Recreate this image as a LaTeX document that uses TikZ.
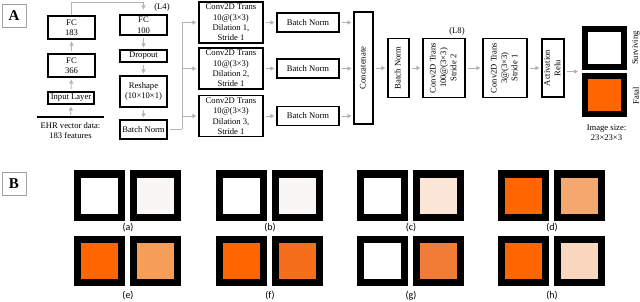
\documentclass[tikz,border=0pt]{standalone}
\usepackage{fontspec}
\setmainfont{Liberation Serif}
\newfontfamily\capfont{Carlito}
\usetikzlibrary{arrows.meta,positioning,calc}
\definecolor{arrgray}{HTML}{B3B3B3}
\definecolor{tagline}{HTML}{A0A0A0}
\definecolor{fatal}{HTML}{FF6600}
\definecolor{paleA}{HTML}{F9F7F5}
\definecolor{paleC}{HTML}{FBE5D6}
\definecolor{warmD}{HTML}{F5A86E}
\definecolor{warmE}{HTML}{F69D58}
\definecolor{warmF}{HTML}{F56E1C}
\definecolor{warmG}{HTML}{F07C36}
\definecolor{paleH}{HTML}{F9D7BF}
\newcommand{\netfont}{\fontsize{8.6}{10.4}\selectfont}
\newcommand{\vtext}[1]{\rotatebox{90}{\begin{tabular}{@{}c@{}}#1\end{tabular}}}
\tikzset{
  layerbox/.style={draw=black, line width=1.2pt, fill=white, inner sep=0pt,
                   align=center, font=\netfont},
  tagbox/.style={draw=tagline, line width=0.8pt, fill=white, inner sep=0pt,
                 minimum width=24pt, minimum height=23pt,
                 font=\fontsize{15}{15}\selectfont\bfseries},
  imgbig/.style={draw=black, line width=7pt, inner sep=0pt, fill=#1,
                 minimum width=44pt, minimum height=43pt},
  imgsmall/.style={draw=black, line width=6pt, inner sep=0pt, fill=#1,
                   minimum width=39pt, minimum height=38pt},
  note/.style={font=\netfont, align=center, inner sep=0pt},
  sublabel/.style={font=\capfont\fontsize{10}{10}\selectfont, inner sep=0pt},
  garr/.style={-{Triangle[length=4pt,width=4pt]}, line width=0.8pt, color=arrgray,
               shorten >=2pt, shorten <=2pt},
  gline/.style={line width=0.8pt, color=arrgray}}

\begin{document}
\begin{tikzpicture}[x=1pt, y=-1pt]
        \useasboundingbox (0,0) rectangle (640,302);
        \node[tagbox] (tagA) at (14,15.5) {A};
        % encoder part
        \node[layerbox, minimum width=47pt, minimum height=23pt] (fc183) at (71.5,27.5) {FC\\183};
        \node[layerbox, minimum width=47pt, minimum height=23pt] (fc366) at (71.5,65.5) {FC\\366};
        \node[layerbox, minimum width=46pt, minimum height=12pt] (inlayer) at (71,98) {Input Layer};
        \node[note, anchor=north, minimum width=67pt, inner ysep=5pt] (ehr) at (70.5,117)
          {EHR vector data:\\ 183 features};
        \draw[line width=1.5pt] (ehr.north west) -- (ehr.north east);
        \draw[garr] (ehr.north) -- (inlayer.south);
        \draw[garr] (inlayer.north) -- (fc366.south);
        \draw[garr] (fc366.north) -- (fc183.south);
        \node[layerbox, minimum width=47pt, minimum height=20pt] (fc100) at (143.5,25) {FC\\100};
        \node[layerbox, minimum width=47pt, minimum height=12pt] (drop) at (143.5,56) {Dropout};
        \node[layerbox, minimum width=47pt, minimum height=31pt] (reshape) at (143.5,91.5) {Reshape\\(10×10×1)};
        \node[layerbox, minimum width=47pt, minimum height=19pt] (norm0) at (143.5,129.5) {Batch Norm};
        \coordinate (turn) at (143.5,2);
        \draw[garr, shorten <=0pt, shorten >=5pt] (fc183.north) |- (turn) -- (fc100.north);
        \node[note] (l4) at (162,7) {(L4)};
        \draw[garr] (fc100.south) -- (drop.north);
        \draw[garr] (drop.south) -- (reshape.north);
        \draw[garr] (reshape.south) -- (norm0.north);
        % three dilated branches
        \node[layerbox, minimum width=64pt, minimum height=41pt] (conv1) at (231,22.5)
          {Conv2D Trans\\ 10@(3×3)\\ Dilation 1,\\ Stride 1};
        \node[layerbox, minimum width=64pt, minimum height=41pt] (conv2) at (231,68.5)
          {Conv2D Trans\\ 10@(3×3)\\ Dilation 2,\\ Stride 1};
        \node[layerbox, minimum width=64pt, minimum height=41pt] (conv3) at (231,116)
          {Conv2D Trans\\ 10@(3×3)\\ Dilation 3,\\ Stride 1};
        \draw[gline, shorten <=2pt] (norm0.east) -- (182,129.5) coordinate (split);
        \draw[garr, shorten <=0pt] (split) |- (conv1.west);
        \draw[garr, shorten <=0pt] (split) |- (conv2.west);
        \draw[garr, shorten <=0pt] (split) |- (conv3.west);
        \node[layerbox, minimum width=62pt, minimum height=19pt] (norm1) at (308,22.5) {Batch Norm};
        \node[layerbox, minimum width=62pt, minimum height=19pt] (norm2) at (308,68.5) {Batch Norm};
        \node[layerbox, minimum width=62pt, minimum height=19pt] (norm3) at (308,116) {Batch Norm};
        \draw[garr] (conv1.east) -- (norm1.west);
        \draw[garr] (conv2.east) -- (norm2.west);
        \draw[garr] (conv3.east) -- (norm3.west);
        \node[layerbox, minimum width=19pt, minimum height=112pt] (concat) at (363.5,68) {\vtext{Concatenate}};
        \draw[garr] (norm1.east) -- (norm1.east -| concat.west);
        \draw[garr] (norm2.east) -- (norm2.east -| concat.west);
        \draw[garr] (norm3.east) -- (norm3.east -| concat.west);
        % decoder head
        \node[layerbox, minimum width=21pt, minimum height=59pt] (norm4) at (398.5,68) {\vtext{Batch Norm}};
        \node[layerbox, minimum width=42pt, minimum height=59pt] (upconv) at (444,68)
          {\vtext{Conv2D Trans\\ 100@(3×3)\\ Stride 2}};
        \node[note] (l8) at (457,31) {(L8)};
        \node[layerbox, minimum width=44pt, minimum height=59pt] (outconv) at (505,68)
          {\vtext{Conv2D Trans\\ 3@(3×3)\\ Stride 1}};
        \node[layerbox, minimum width=22pt, minimum height=58pt] (relu) at (553,68)
          {\vtext{Activation\\ Relu}};
        \draw[garr] (concat.east) -- (norm4.west);
        \draw[garr] (norm4.east) -- (upconv.west);
        \draw[garr] (upconv.east) -- (outconv.west);
        \draw[garr] (outconv.east) -- (relu.west);
        \node[imgsmall=white] (surv) at (604.5,48) {};
        \node[imgsmall=fatal] (fatal) at (604.5,95) {};
        \coordinate (outimg) at ($(surv.south west)!0.5!(fatal.north west)$);
        \draw[garr, shorten >=4pt] (relu.east |- outimg) -- (outimg);
        \node[note, rotate=90] (survtxt) at (636,48) {Surviving};
        \node[note, rotate=90] (fataltxt) at (636,96) {Fatal};
        \node[note] (imgsize) at (606.5,132.5) {Image size:\\ 23×23×3};
        % panel B, generated samples
        \node[tagbox] (tagB) at (14,184) {B};
        \node[imgbig=white] (a1) at (99.5,195.5) {};
        \node[imgbig=paleA] (a2) at (155,195.5) {};
        \node[sublabel] (capa) at (128,228) {(a)};
        \node[imgbig=white] (b1) at (241.5,195.5) {};
        \node[imgbig=paleA] (b2) at (297,195.5) {};
        \node[sublabel] (capb) at (270,228) {(b)};
        \node[imgbig=white] (c1) at (382.5,195.5) {};
        \node[imgbig=paleC] (c2) at (438,195.5) {};
        \node[sublabel] (capc) at (411,228) {(c)};
        \node[imgbig=fatal] (d1) at (523.5,195.5) {};
        \node[imgbig=warmD] (d2) at (579,195.5) {};
        \node[sublabel] (capd) at (552,228) {(d)};
        \node[imgbig=fatal] (e1) at (99.5,261) {};
        \node[imgbig=warmE] (e2) at (155,261) {};
        \node[sublabel] (cape) at (128,296) {(e)};
        \node[imgbig=fatal] (f1) at (241.5,261) {};
        \node[imgbig=warmF] (f2) at (297,261) {};
        \node[sublabel] (capf) at (270,296) {(f)};
        \node[imgbig=white] (g1) at (382.5,261) {};
        \node[imgbig=warmG] (g2) at (438,261) {};
        \node[sublabel] (capg) at (411,296) {(g)};
        \node[imgbig=fatal] (h1) at (523.5,261) {};
        \node[imgbig=paleH] (h2) at (579,261) {};
        \node[sublabel] (caph) at (552,296) {(h)};
      \end{tikzpicture}
\end{document}
